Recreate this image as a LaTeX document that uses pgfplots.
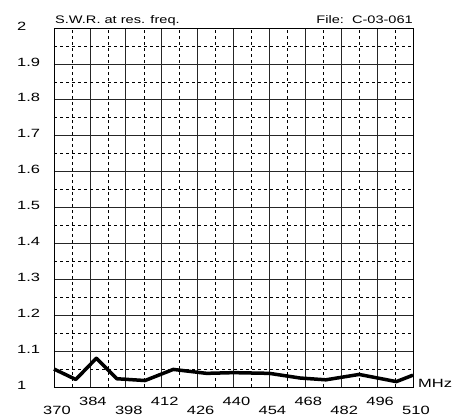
\documentclass[border=0pt]{standalone}
\usepackage{fontspec}
\setmainfont{Liberation Sans}
\newfontfamily\widefont[FakeStretch=1.38]{Liberation Sans}
\newfontfamily\titlefont[FakeStretch=1.33]{Liberation Sans}
\usepackage{pgfplots}
\pgfplotsset{compat=1.18}
\begin{document}
\begin{tikzpicture}
\path[use as bounding box] (0,0) rectangle (459bp,418bp);
\begin{axis}[
  at={(54bp,31bp)}, anchor=south west,
  scale only axis, width=359bp, height=359bp,
  xmin=370, xmax=510, ymin=1, ymax=2,
  clip=false,
  xtick={370,384,398,412,426,440,454,468,482,496,510},
  xticklabels={370,\raisebox{9bp}{384},398,\raisebox{9bp}{412},426,\raisebox{9bp}{440},454,\raisebox{9bp}{468},482,\raisebox{9bp}{496},510},
  ytick={1,1.1,1.2,1.3,1.4,1.5,1.6,1.7,1.8,1.9,2},
  yticklabels={1,1.1,1.2,1.3,1.4,1.5,1.6,1.7,1.8,1.9,2},
  minor tick num=1,
  grid=both,
  major grid style={black!85, line width=0.7bp},
  minor grid style={black, line width=0.5bp, dash pattern=on 3bp off 3bp},
  major tick length=0pt, minor tick length=0pt,
  axis line style={black, line width=0.8bp},
  xticklabel style={anchor=base, inner sep=0pt, yshift=-27bp, xshift=3bp, font=\widefont\fontsize{12}{13}\selectfont},
  yticklabel style={anchor=west, inner sep=0pt, xshift=-37bp, yshift=2bp, font=\widefont\fontsize{12}{13}\selectfont},
]
\addplot[black, line width=3.5bp, line join=round] coordinates {
  (370,1.050) (378.5,1.021) (386.5,1.080) (394.5,1.023) (405.5,1.018)
  (416.5,1.049) (429.5,1.038) (440,1.040) (454,1.038) (466,1.025)
  (476,1.020) (489,1.035) (503.5,1.015) (510,1.033)
};
\node[anchor=base west, inner sep=0pt, font=\titlefont\fontsize{11}{13}\selectfont] at (rel axis cs:0,1) [xshift=1bp, yshift=4bp] {S.W.R. at res. freq.};
\node[anchor=base east, inner sep=0pt, font=\titlefont\fontsize{11}{13}\selectfont] at (rel axis cs:1,1) [yshift=4bp] {File:\ \ C-03-061};
\node[anchor=base west, inner sep=0pt, font=\widefont\fontsize{12}{13}\selectfont] at (rel axis cs:1,0) [xshift=5bp] {MHz};
\end{axis}
\end{tikzpicture}
\end{document}
